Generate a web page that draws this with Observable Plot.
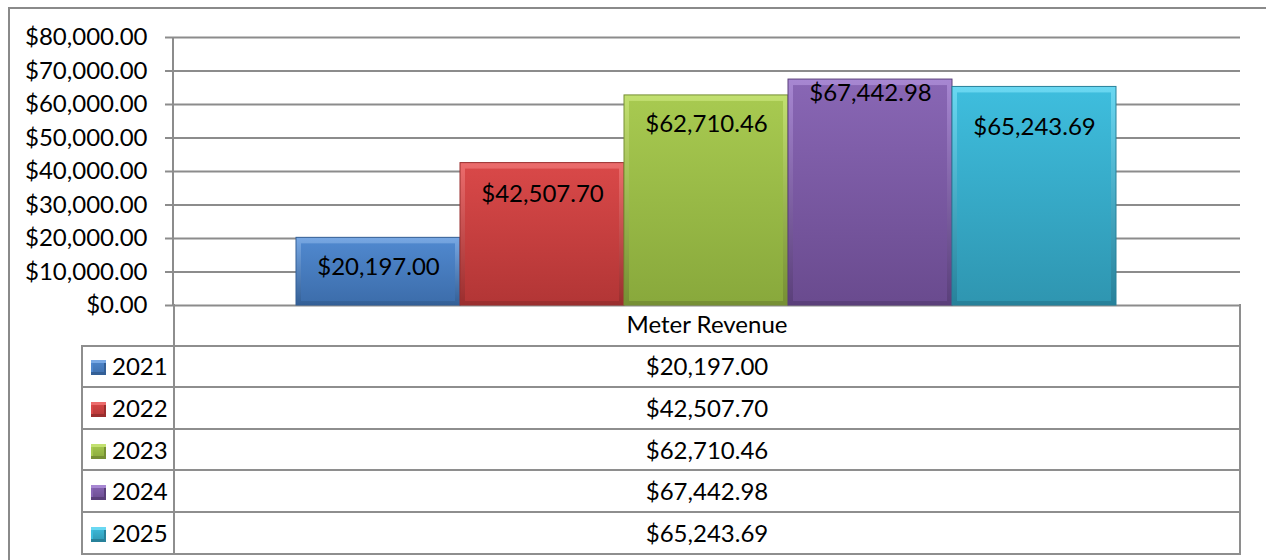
<!DOCTYPE html>
<html>
<head>
<meta charset="utf-8">
<script src="https://cdn.jsdelivr.net/npm/d3@7"></script>
<script src="https://cdn.jsdelivr.net/npm/@observablehq/plot@0.6"></script>
<style>
  html, body { margin: 0; padding: 0; background: #fff; }
  #wrap { position: relative; width: 1266px; height: 560px; overflow: hidden; background: #fff; font-family: Lato, "Open Sans", sans-serif; }
  #border { position: absolute; left: 8px; top: 7px; width: 1400px; height: 700px; border-left: 2px solid #8a8a8a; border-top: 2px solid #8a8a8a; }
  #chart { position: absolute; left: 0; top: 0; }
  #tbl { position: absolute; left: 81px; top: 304px; width: 1160px; border-collapse: collapse; table-layout: fixed; font-size: 24px; color: #000; }
  #tbl td { border: 2px solid #8e8e8e; padding: 0; white-space: nowrap; line-height: 1; }
  #tbl tr { height: 41.6px; }
  #tbl td.val { text-align: center; }
  #tbl td.lab { text-align: left; padding-left: 8px; }
  #tbl tr.hdr td.lab { border: none; border-right: 2px solid #8e8e8e; }
  #tbl tr.hdr td.val { border-top: none; }
  .key { display: inline-block; width: 15px; height: 15px; vertical-align: 0px; margin-right: 6px; box-sizing: border-box; }
</style>
</head>
<body>
<div id="wrap">
  <div id="border"></div>
  <div id="chart"></div>
</div>
<script>
// ---- data ----
const category = "Meter Revenue";
const years = ["2021", "2022", "2023", "2024", "2025"];
const revenue = [20197.00, 42507.70, 62710.46, 67442.98, 65243.69];
const yTicks = [0, 10000, 20000, 30000, 40000, 50000, 60000, 70000, 80000];

// ---- styles ----
const palette = [
  {hi: "#78a8e4", top: "#4f87cd", bot: "#3d6eac", lo: "#335f96"},
  {hi: "#ec6c6c", top: "#d84848", bot: "#b33636", lo: "#9a2e2e"},
  {hi: "#c2e070", top: "#a7c950", bot: "#89a93c", lo: "#768f34"},
  {hi: "#a787d2", top: "#8866b4", bot: "#6a4b8f", lo: "#5a3f7a"},
  {hi: "#6ad8f2", top: "#3ebddd", bot: "#2f96b1", lo: "#27819a"}
];
const labelDy = {"2021": 29, "2022": 31, "2023": 29, "2024": 14, "2025": 40};
const fmt = d => "$" + d3.format(",.2f")(d);

const data = years.map((year, i) => ({year, value: revenue[i], i}));

const defsMark = () => {
  const defs = d3.create("svg:defs");
  palette.forEach((c, i) => {
    const e = defs.append("linearGradient").attr("id", "edge" + i).attr("x1", 0).attr("y1", 0).attr("x2", 0).attr("y2", 1);
    e.append("stop").attr("offset", "0%").attr("stop-color", c.hi);
    e.append("stop").attr("offset", "100%").attr("stop-color", c.lo);
    const f = defs.append("linearGradient").attr("id", "face" + i).attr("x1", 0).attr("y1", 0).attr("x2", 0).attr("y2", 1);
    f.append("stop").attr("offset", "0%").attr("stop-color", c.top);
    f.append("stop").attr("offset", "100%").attr("stop-color", c.bot);
  });
  return defs.node();
};

const leftLine = (index, scales, values, dims) => {
  return d3.create("svg:line")
    .attr("x1", dims.marginLeft).attr("x2", dims.marginLeft)
    .attr("y1", dims.marginTop).attr("y2", dims.height - dims.marginBottom + 1)
    .attr("stroke", "#8c8c8c").attr("stroke-width", 2).node();
};

const chart = Plot.plot({
  width: 1266,
  height: 310,
  marginTop: 37,
  marginBottom: 5,
  marginLeft: 173,
  marginRight: 26,
  x: {type: "band", domain: years, padding: 0, insetLeft: 123, insetRight: 124, axis: null},
  y: {domain: [0, 80000], axis: null},
  color: {type: "identity"},
  style: {fontFamily: "Lato, 'Open Sans', sans-serif", fontSize: "24px", overflow: "visible", background: "transparent", color: "#000"},
  marks: [
    defsMark,
    Plot.ruleY(yTicks, {stroke: "#8c8c8c", strokeWidth: 2, strokeOpacity: 1}),
    Plot.axisY(yTicks, {label: null, tickSize: 8, tickPadding: 18, tickFormat: fmt, stroke: "#8c8c8c", strokeWidth: 2, strokeOpacity: 1, fill: "#000", fontSize: 24}),
    leftLine,
    Plot.barY(data, {x: "year", y: "value", fill: d => `url(#edge${d.i})`, stroke: d => palette[d.i].lo, strokeWidth: 1}),
    Plot.barY(data, {x: "year", y: "value", fill: d => `url(#face${d.i})`, insetTop: 6, insetLeft: 5, insetRight: 5, insetBottom: 4}),
    ...years.map(yr => Plot.text(data, {
      filter: d => d.year === yr, x: "year", y: "value", text: d => fmt(d.value),
      dy: labelDy[yr], fill: "#000", fontSize: 24
    }))
  ]
});
document.getElementById("chart").appendChild(chart);

// ---- data table under the chart ----
const tbl = d3.select("#wrap").append("table").attr("id", "tbl");
const cg = tbl.append("colgroup");
cg.append("col").style("width", "92px");
cg.append("col");
const hdr = tbl.append("tr").attr("class", "hdr");
hdr.append("td").attr("class", "lab");
hdr.append("td").attr("class", "val").text(category);
years.forEach((yr, i) => {
  const c = palette[i];
  const tr = tbl.append("tr");
  const lab = tr.append("td").attr("class", "lab");
  lab.append("span").attr("class", "key")
    .style("background", `linear-gradient(to bottom, ${c.top}, ${c.bot})`)
    .style("box-shadow", `inset 0 3px 0 ${c.hi}, inset 0 -3px 0 ${c.lo}, inset 2px 0 0 ${c.top}, inset -2px 0 0 ${c.lo}`);
  lab.append("span").text(yr);
  tr.append("td").attr("class", "val").text(fmt(revenue[i]));
});
</script>
</body>
</html>
